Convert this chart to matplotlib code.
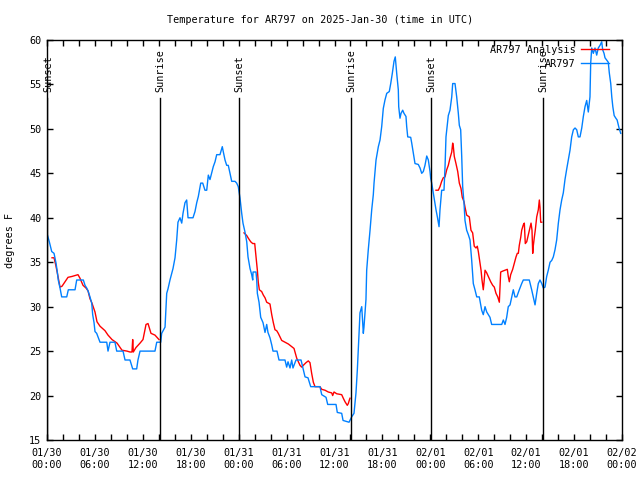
import numpy as np
import matplotlib
matplotlib.use('Agg')
import matplotlib.pyplot as plt
from matplotlib.ticker import MultipleLocator, FixedLocator

# hours since 2025-01-30 00:00 UTC
obs_hours = [0.04, 0.29, 0.59, 0.88, 1.13, 1.29, 1.41, 1.63, 1.84, 2.47, 2.67, 3.51, 3.72, 4.55, 4.76,
             4.97, 5.17, 5.38, 5.60, 5.72, 5.89, 6.01, 6.22, 6.64, 7.48, 7.64, 7.89, 8.51, 8.73, 9.52,
             9.77, 10.39, 10.73, 11.23, 11.39, 11.65, 13.52, 13.74, 14.24, 14.36, 14.78, 14.99, 15.15,
             15.40, 15.78, 16.03, 16.24, 16.40, 16.65, 16.87, 17.03, 17.28, 17.49, 17.66, 18.28, 18.53,
             18.75, 18.95, 19.25, 19.50, 19.78, 20.00, 20.20, 20.41, 20.82, 21.04, 21.25, 21.66, 21.95,
             22.08, 22.29, 22.50, 22.70, 22.92, 23.13, 23.54, 23.75, 23.95, 24.08, 24.17, 24.38, 24.54,
             24.79, 25.01, 25.17, 25.42, 25.63, 25.76, 25.80, 26.17, 26.26, 26.34, 26.55, 26.76, 27.05,
             27.30, 27.51, 27.67, 27.92, 28.14, 28.30, 28.80, 29.05, 29.80, 30.01, 30.18, 30.43, 30.64,
             30.80, 31.18, 31.81, 32.02, 32.31, 32.68, 33.02, 34.18, 34.40, 34.94, 35.15, 36.19, 36.35,
             36.90, 37.07, 37.82, 38.15, 38.44, 38.69, 38.86, 38.98, 39.11, 39.19, 39.41, 39.53, 39.61,
             39.69, 39.82, 39.94, 40.03, 40.23, 40.45, 40.66, 40.86, 40.95, 41.20, 41.49, 41.70, 41.91,
             42.11, 42.32, 42.54, 42.86, 43.04, 43.24, 43.45, 43.61, 43.79, 43.99, 44.04, 44.20, 44.33,
             44.54, 44.70, 44.95, 45.04, 45.17, 45.54, 45.67, 45.87, 46.08, 46.49, 46.71, 46.92, 47.12,
             47.33, 47.55, 47.75, 47.96, 48.05, 48.17, 48.37, 48.59, 48.71, 48.88, 49.09, 49.21, 49.42,
             49.71, 49.84, 49.96, 50.25, 50.46, 50.68, 50.80, 51.09, 51.30, 51.50, 51.63, 51.80, 51.93,
             52.05, 52.22, 52.34, 52.55, 52.76, 52.97, 53.18, 53.38, 53.59, 53.81, 54.13, 54.31, 54.43,
             54.63, 54.85, 55.06, 55.26, 55.47, 55.68, 56.94, 57.14, 57.35, 57.56, 57.76, 57.98, 58.19,
             58.39, 58.60, 58.82, 59.14, 59.44, 59.64, 60.39, 60.69, 60.89, 61.11, 61.32, 61.52, 61.73,
             61.95, 62.15, 62.36, 62.57, 62.77, 62.99, 63.20, 63.40, 63.61, 63.82, 64.03, 64.24, 64.45,
             64.65, 64.86, 65.08, 65.28, 65.49, 65.70, 65.91, 66.12, 66.33, 66.53, 66.74, 66.96, 67.16,
             67.37, 67.58, 67.78, 67.99, 68.08, 68.21, 68.41, 68.62, 68.83, 69.03, 69.25, 69.46, 69.58,
             69.75, 69.87, 70.28, 70.41, 70.59, 70.72, 70.85, 71.02, 71.23, 71.39, 71.63, 71.84]
obs_temp = [38.1, 37.3, 36.2, 36.0, 34.9, 33.9, 33.0, 32.1, 31.1, 31.1, 31.9, 31.9, 33.0, 33.0, 32.4,
            32.1, 31.7, 31.1, 30.4, 29.1, 28.2, 27.2, 27.0, 26.0, 26.0, 25.0, 26.0, 26.0, 25.0, 25.0,
            24.0, 24.0, 23.0, 23.0, 24.0, 25.0, 25.0, 26.0, 26.0, 27.0, 27.7, 31.5, 32.0,
            33.0, 34.3, 35.5, 37.5, 39.5, 40.0, 39.4, 40.5, 41.7, 42.0, 40.0, 40.0, 40.7,
            41.7, 42.4, 43.9, 43.9, 43.1, 43.1, 44.8, 44.3, 45.75, 46.3, 47.1, 47.1, 48.0,
            47.4, 46.5, 45.9, 45.9, 45.0, 44.1, 44.1, 43.9, 43.5, 42.75, 42.2, 40.5, 39.4,
            38.4, 37.3, 35.6, 34.3, 33.6, 33.0, 33.9, 33.9, 33.0, 31.5, 30.5, 28.8, 28.2,
            27.1, 28.0, 27.1, 26.5, 25.7, 25.0, 25.0, 24.0, 24.0, 23.2, 23.8, 23.1, 24.0,
            23.1, 24.0, 24.0, 23.2, 22.1, 22.0, 21.0, 21.0, 20.1, 19.8, 19.0, 19.0, 18.1,
            18.0, 17.2, 17.0, 17.6, 18.0, 20.3, 22.9, 25.1, 27.7, 29.3, 30.0, 28.3, 27.0,
            27.7, 29.3, 30.8, 34.1, 36.4, 38.6, 40.9, 42.6, 43.9, 46.5, 48.0, 48.75, 50.25,
            52.3, 53.25, 54.0, 54.2, 55.1, 56.25, 57.6, 58.1, 56.25, 54.4, 52.5, 51.2, 51.75,
            52.1, 51.75, 51.4, 50.25, 49.1, 49.05, 48.4, 47.25, 46.1, 46.0, 45.6, 45.0, 45.2,
            45.9, 46.95, 46.5, 45.2, 44.4, 43.9, 42.8, 41.6, 40.9, 40.1, 39.0, 40.9, 43.1,
            43.1, 45.7, 49.1, 51.5, 52.1, 53.6, 55.1, 55.1, 53.6, 51.8, 50.4, 49.9, 46.9,
            43.5, 41.6, 39.7, 38.6, 38.1, 37.5, 35.2, 32.6, 31.9, 31.1, 31.1, 30.2, 29.6,
            29.1, 30.0, 29.4, 29.1, 28.8, 28.0, 28.0, 28.5, 28.0, 28.8, 30.0, 30.2, 31.1,
            31.9, 31.1, 31.1, 31.9, 32.6, 33.0, 33.0, 31.9, 31.1, 30.2, 31.5, 32.6, 33.0,
            32.6, 32.1, 32.2, 33.4, 34.1, 35.0, 35.2, 35.6, 36.4, 37.5, 39.4, 40.9, 42.0,
            42.8, 44.3, 45.5, 46.5, 47.6, 49.1, 49.9, 50.1, 49.9, 49.1, 49.1, 50.1, 51.4,
            52.5, 53.2, 51.9, 53.6, 57.4, 59.1, 58.5, 59.1, 58.3, 59.1, 59.4, 59.8, 58.9,
            58.5, 58.0, 57.5, 56.3, 55.1, 53.6, 52.5, 51.5, 51.2, 51.0, 50.1, 49.5]

# analysis only covers the night hours; NaN splits the segments
ana_hours = [0.63, 0.88, 1.09, 1.25, 1.63, 1.88, 2.25, 2.63, 3.13, 3.51, 3.88, 4.13, 4.51, 4.88, 5.13,
             5.38, 5.63, 6.01, 6.26, 6.64, 7.26, 7.64, 8.14, 8.77, 9.39, 10.02, 10.39, 10.64, 10.73,
             10.81, 11.14, 11.65, 12.02, 12.40, 12.65, 13.02, 13.52, 14.02, np.nan,
             24.67, 25.01, 25.21, 25.51, 25.76, 26.01, 26.17, 26.34, 26.46, 26.59, 26.88, 27.09, 27.30,
             27.51, 27.71, 27.92, 28.14, 28.34, 28.55, 28.76, 28.96, 29.18, 29.39, 29.80, 30.22, 30.64,
             30.93, 31.05, 31.27, 31.47, 31.68, 31.89, 32.09, 32.43, 32.72, 32.93, 33.14, 33.35, 33.56,
             34.18, 34.40, 34.81, 35.22, 35.65, 35.77, 35.94, 36.28, 36.90, 37.10, 37.32, 37.60, 37.73,
             37.86, 37.94, np.nan,
             48.71, 49.00, 49.21, 49.42, 49.62, 49.84, 50.05, 50.25, 50.46, 50.68, 50.80, 50.88, 51.00,
             51.21, 51.43, 51.63, 51.84, 52.00, 52.22, 52.34, 52.55, 52.88, 53.09, 53.30, 53.50, 53.72,
             53.88, 54.01, 54.22, 54.35, 54.47, 54.63, 54.72, 54.85, 55.06, 55.26, 55.56, 55.81, 56.01,
             56.22, 56.44, 56.64, 56.81, 57.06, 57.35, 57.64, 57.76, 57.89, 58.06, 58.31, 58.52, 58.73,
             58.89, 59.02, 59.14, 59.32, 59.44, 59.64, 59.77, 59.89, 60.07, 60.27, 60.48, 60.61, 60.73,
             60.82, 60.89, 61.02, 61.14, 61.32, 61.52, 61.65, 61.73, 61.82, 61.95]
ana_temp = [35.5, 35.5, 34.7, 34.0, 32.2, 32.3, 32.8, 33.3, 33.4, 33.5, 33.6, 33.2, 32.4, 32.1, 31.8,
            30.9, 30.4, 29.4, 28.3, 27.8, 27.3, 26.8, 26.3, 25.9, 25.1, 25.0, 24.9, 24.9, 26.3,
            24.9, 25.4, 25.9, 26.3, 28.0, 28.1, 27.0, 26.8, 26.3, np.nan,
            38.3, 38.0, 37.7, 37.3, 37.1, 37.1, 35.6, 34.1, 32.7, 31.9, 31.7, 31.3, 31.0,
            30.5, 30.4, 30.3, 29.1, 28.2, 27.4, 27.3, 27.0, 26.6, 26.2, 26.0, 25.8, 25.5,
            25.3, 24.9, 24.2, 23.8, 23.4, 23.2, 23.4, 23.7, 23.9, 23.7, 22.5, 21.5, 21.0,
            21.0, 20.7, 20.6, 20.4, 20.3, 20.0, 20.4, 20.2, 20.1, 19.7, 19.3, 18.9, 19.1,
            19.5, 19.7, np.nan,
            43.1, 43.1, 43.5, 44.1, 44.5, 44.6, 45.4, 45.9, 46.7, 47.4, 48.4, 48.0, 46.9,
            46.1, 45.2, 43.9, 43.3, 42.3, 41.8, 41.2, 40.3, 40.1, 38.6, 38.3, 36.8, 36.6,
            36.8, 36.2, 34.9, 34.1, 33.0, 31.9, 32.7, 34.1, 33.8, 33.4, 32.8, 32.4, 32.2,
            31.5, 31.1, 30.5, 33.9, 34.0, 34.1, 34.2, 33.4, 32.8, 33.6, 34.2, 34.9, 35.6,
            36.0, 36.0, 36.9, 37.8, 38.6, 39.2, 39.4, 37.1, 37.3, 38.1, 38.9, 39.4, 38.6,
            36.0, 36.8, 37.8, 38.6, 40.1, 40.9, 42.0, 41.2, 39.5, 39.5]

sun_hours = [0.06, 14.15, 24.04, 38.07, 48.08, 62.10]
sun_labels = ['Sunset', 'Sunrise', 'Sunset', 'Sunrise', 'Sunset', 'Sunrise']

tick_hours = [0, 6, 12, 18, 24, 30, 36, 42, 48, 54, 60, 66, 72]
tick_labels = ['01/30\n00:00', '01/30\n06:00', '01/30\n12:00', '01/30\n18:00',
               '01/31\n00:00', '01/31\n06:00', '01/31\n12:00', '01/31\n18:00',
               '02/01\n00:00', '02/01\n06:00', '02/01\n12:00', '02/01\n18:00',
               '02/02\n00:00']

plt.rcParams['font.family'] = ['DejaVu Sans Mono']
fs = 7.3

fig = plt.figure(figsize=(6.4, 4.8), dpi=100)
ax = fig.add_axes([47 / 640, 40 / 480, 575 / 640, 400 / 480])

ax.plot(ana_hours, ana_temp, color='#ff0000', lw=1, label='AR797 Analysis', zorder=2)
ax.plot(obs_hours, obs_temp, color='#0080ff', lw=1, label='AR797', zorder=2.5)

# sunrise / sunset markers
for h, lab in zip(sun_hours, sun_labels):
    ax.plot([h, h], [15, 53.5], color='black', lw=1, zorder=3)
    ax.text(h + 0.1, 54.15, lab, rotation=90, ha='center', va='bottom', fontsize=fs)

ax.set_xlim(0, 72)
ax.set_ylim(15, 60)
ax.xaxis.set_major_locator(FixedLocator(tick_hours))
ax.set_xticklabels(tick_labels)
ax.xaxis.set_minor_locator(MultipleLocator(2))
ax.yaxis.set_major_locator(MultipleLocator(5))
ax.tick_params(which='both', direction='in', top=True, right=True, length=4, width=1,
               labelsize=fs)
ax.tick_params(axis='x', pad=6)
ax.tick_params(axis='y', pad=4)
for s in ax.spines.values():
    s.set_linewidth(1)

fig.text(0.5, 1 - 20 / 480, 'Temperature for AR797 on 2025-Jan-30 (time in UTC)',
         ha='center', va='center', fontsize=fs)
fig.text(10 / 640, 0.5, 'degrees F', rotation=90, ha='center', va='center', fontsize=fs)

ax.legend(loc='upper right', bbox_to_anchor=(0.977, 0.9875), frameon=False, markerfirst=False,
          fontsize=fs, handlelength=2.7, handletextpad=0.6, labelspacing=0.35,
          borderpad=0, borderaxespad=0)

fig.savefig('out.png', dpi=100)
